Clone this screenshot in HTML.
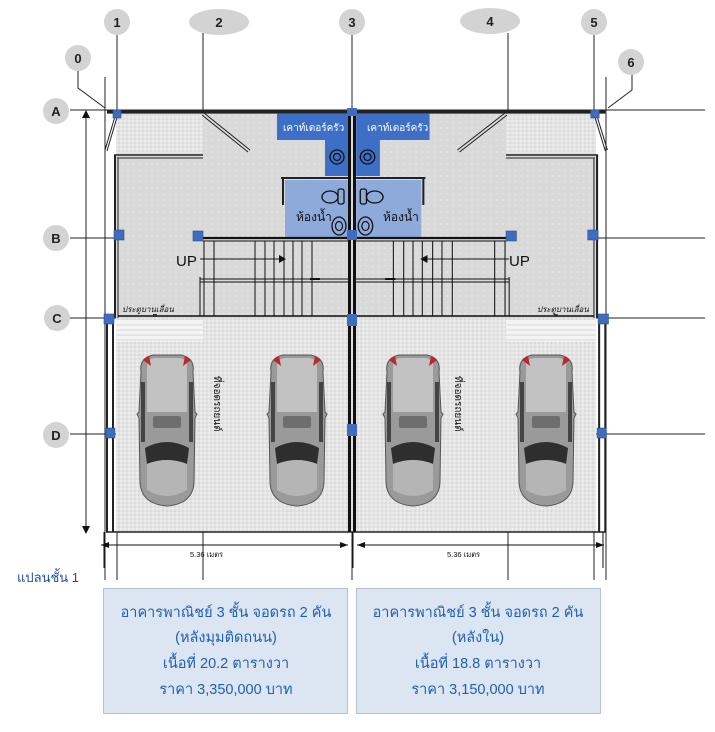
<!DOCTYPE html>
<html><head><meta charset="utf-8"><style>
html,body{margin:0;padding:0;background:#fff;}
svg{display:block;font-family:"Liberation Sans","Noto Sans CJK SC",sans-serif;}
</style></head><body>
<svg width="715" height="732" viewBox="0 0 715 732" xmlns="http://www.w3.org/2000/svg">
<defs>
<pattern id="dots" width="6" height="6" patternUnits="userSpaceOnUse"><rect width="6" height="6" fill="#d9d9d9"/><circle cx="2" cy="2" r="0.6" fill="#f2f2f2"/></pattern>
<pattern id="dots2" width="4" height="4" patternUnits="userSpaceOnUse"><rect width="4" height="4" fill="#e4e4e4"/><circle cx="1" cy="1" r="0.7" fill="#f8f8f8"/><circle cx="3" cy="3" r="0.7" fill="#cfcfcf"/></pattern>
<g id="half">
  <rect x="116" y="113" width="88" height="40" fill="url(#dots2)"/>
  <rect x="116" y="153" width="236" height="165" fill="url(#dots)"/>
  <rect x="203" y="113" width="149" height="40" fill="url(#dots)"/>
  <rect x="116" y="318" width="236" height="214" fill="url(#dots2)"/>
  <rect x="116" y="320" width="87" height="22" fill="#f4f4f4"/>
  <g stroke="#bbb" stroke-width="0.6"><line x1="116" y1="325" x2="203" y2="325"/><line x1="116" y1="330" x2="203" y2="330"/><line x1="116" y1="335" x2="203" y2="335"/><line x1="116" y1="340" x2="203" y2="340"/></g>
  <path d="M277 113 H348 V176 H325 V140 H277 Z" fill="#3c6fc5"/>
  <circle cx="337" cy="157" r="7" fill="none" stroke="#111" stroke-width="1.3"/><circle cx="337" cy="157" r="3.5" fill="none" stroke="#111" stroke-width="1.2"/>
  <rect x="285" y="180" width="63" height="57" fill="#8eaadb"/>
  <line x1="281" y1="178" x2="348" y2="178" stroke="#222" stroke-width="2"/>
  <line x1="283" y1="179" x2="283" y2="205" stroke="#222" stroke-width="2"/>
  <ellipse cx="330" cy="197" rx="8" ry="6" fill="none" stroke="#111" stroke-width="1.3"/>
  <rect x="338" y="189" width="6" height="15" rx="2" fill="none" stroke="#111" stroke-width="1.3"/>
  <ellipse cx="339" cy="226" rx="7" ry="9" fill="none" stroke="#111" stroke-width="1.3"/><ellipse cx="339" cy="226" rx="3.5" ry="4.5" fill="none" stroke="#111" stroke-width="1.2"/>
  <rect x="107" y="110" width="247" height="3" fill="#222"/>
  <line x1="107" y1="113.5" x2="352" y2="113.5" stroke="#444" stroke-width="0.8"/>
  <rect x="114" y="155" width="2" height="163" fill="#222"/>
  <line x1="114" y1="155" x2="203" y2="155" stroke="#222" stroke-width="1.5"/>
  <line x1="117" y1="158" x2="203" y2="158" stroke="#222" stroke-width="1"/>
  <line x1="118" y1="158" x2="118" y2="318" stroke="#222" stroke-width="1"/>
  <rect x="106" y="318" width="2" height="214" fill="#222"/><rect x="112" y="318" width="2" height="214" fill="#222"/>
  <line x1="106" y1="532" x2="352" y2="532" stroke="#222" stroke-width="1.5"/>
  <line x1="204" y1="113" x2="250" y2="150" stroke="#222" stroke-width="1"/><line x1="202" y1="115" x2="248" y2="152" stroke="#222" stroke-width="1"/>
  <line x1="116" y1="113" x2="105" y2="150" stroke="#222" stroke-width="1"/><line x1="118" y1="114" x2="107" y2="151" stroke="#222" stroke-width="1"/>
  <line x1="203" y1="238" x2="348" y2="238" stroke="#111" stroke-width="2.2"/>
  <line x1="203" y1="241" x2="348" y2="241" stroke="#111" stroke-width="1"/>
  <line x1="118" y1="316" x2="348" y2="316" stroke="#111" stroke-width="1.5"/>
  <line x1="200" y1="279" x2="348" y2="279" stroke="#111" stroke-width="1"/><line x1="200" y1="282" x2="348" y2="282" stroke="#111" stroke-width="1"/>
  <rect x="310" y="278" width="10" height="2" fill="#111"/>
  <g stroke="#111" stroke-width="1"><line x1="200" y1="277" x2="200" y2="316"/><line x1="204" y1="241" x2="204" y2="316"/><line x1="214" y1="241" x2="214" y2="316"/><line x1="255" y1="241" x2="255" y2="316"/><line x1="265" y1="241" x2="265" y2="316"/><line x1="274" y1="241" x2="274" y2="316"/><line x1="284" y1="241" x2="284" y2="316"/><line x1="293" y1="241" x2="293" y2="316"/><line x1="302" y1="241" x2="302" y2="316"/><line x1="312" y1="241" x2="312" y2="316"/></g>
  <line x1="200" y1="259" x2="280" y2="259" stroke="#111" stroke-width="1"/>
  <path d="M279 255 L286 259 L279 263 Z" fill="#111"/>
  <rect x="153" y="314" width="4" height="3" fill="#333"/>
  <g fill="#3f6cbf" stroke="#2b4f90" stroke-width="0.6">
    <rect x="113" y="110" width="8" height="8"/><rect x="114" y="230" width="10" height="10"/><rect x="193" y="231" width="10" height="10"/>
    <rect x="104" y="314" width="10" height="10"/><rect x="106" y="428" width="9" height="10"/>
  </g>
</g>
<g id="car">
  <path d="M6 20 Q4 6 18 3 H46 Q60 6 58 20 L60 60 L62 62 L60 66 L59 130 Q58 152 32 154 Q6 152 5 130 L4 66 L2 62 L4 60 Z" fill="#9a9a9a" stroke="#555" stroke-width="1"/>
  <path d="M12 14 Q12 7 20 6 H44 Q52 7 52 14 L52 60 H12 Z" fill="#c2c2c2"/>
  <rect x="18" y="64" width="28" height="12" rx="2" fill="#6e6e6e"/>
  <path d="M10 96 Q32 84 54 96 L52 112 Q32 104 12 112 Z" fill="#2e2e2e"/>
  <path d="M12 112 Q32 104 52 112 L52 138 Q32 150 12 138 Z" fill="#b5b5b5"/>
  <path d="M8 8 L14 4 L16 14 Z M56 8 L50 4 L48 14 Z" fill="#c0262c"/>
  <path d="M6 30 L10 30 L10 90 L6 90 Z M54 30 L58 30 L58 90 L54 90 Z" fill="#444"/>
</g>
</defs>

<g stroke="#222" stroke-width="1">
  <line x1="117" y1="32" x2="117" y2="580"/><line x1="203" y1="33" x2="203" y2="580"/><line x1="352" y1="33" x2="352" y2="580"/>
  <line x1="508" y1="33" x2="508" y2="580"/><line x1="594" y1="33" x2="594" y2="580"/>
  <line x1="105" y1="77" x2="105" y2="580"/><line x1="606" y1="77" x2="606" y2="580"/>
  <line x1="70" y1="110" x2="705" y2="110"/><line x1="70" y1="238" x2="705" y2="238"/><line x1="70" y1="318" x2="705" y2="318"/><line x1="70" y1="434" x2="705" y2="434"/>
  <line x1="86" y1="115" x2="86" y2="532"/>
  <polyline points="78,70 78,88 105,108" fill="none"/><polyline points="632,73 632,90 608,108" fill="none"/>
</g>
<path d="M82 118 L86 110 L90 118 Z" fill="#111"/><path d="M82 526 L86 534 L90 526 Z" fill="#111"/>

<use href="#half"/>
<use href="#half" transform="translate(715.97,0) scale(-1.034,1)"/>
<rect x="348" y="110" width="3" height="422" fill="#111"/><rect x="353" y="110" width="3" height="422" fill="#111"/>
<g fill="#3f6cbf"><rect x="347" y="108" width="10" height="8"/><rect x="347" y="230" width="10" height="10"/><rect x="347" y="314" width="10" height="12"/><rect x="347" y="424" width="10" height="12"/></g>

<use href="#car" x="135" y="352"/><use href="#car" x="265" y="352"/><use href="#car" x="381" y="352"/><use href="#car" x="514" y="352"/>

<g font-size="10" fill="#fff">
  <text x="283" y="131">เคาท์เตอร์ครัว</text><text x="367" y="131">เคาท์เตอร์ครัว</text>
</g>
<g font-size="12" fill="#111"><text x="296" y="221">ห้องน้ำ</text><text x="383" y="221">ห้องน้ำ</text></g>
<g font-size="15" fill="#111"><text x="176" y="266">UP</text><text x="509" y="266">UP</text></g>
<g font-size="8" font-style="italic" fill="#111"><text x="122" y="312">ประตูบานเลื่อน</text><text x="537" y="312">ประตูบานเลื่อน</text></g>
<g font-size="10" fill="#111"><text transform="translate(214,376) rotate(90)">ที่จอดรถยนต์</text><text transform="translate(455,376) rotate(90)">ที่จอดรถยนต์</text></g>

<g fill="#d3d3d3"><circle cx="117" cy="22" r="13"/><ellipse cx="219" cy="22" rx="30" ry="13"/><circle cx="352" cy="22" r="13"/><ellipse cx="490" cy="21" rx="30" ry="13"/><circle cx="594" cy="22" r="13"/>
<circle cx="78" cy="58" r="13"/><circle cx="631" cy="62" r="13"/><circle cx="56" cy="111" r="13"/><circle cx="56" cy="238" r="13"/><circle cx="57" cy="318" r="13"/><circle cx="56" cy="435" r="13"/></g>
<g font-size="13" font-weight="bold" fill="#222" text-anchor="middle"><text x="117" y="27">1</text><text x="219" y="27">2</text><text x="352" y="27">3</text><text x="490" y="26">4</text><text x="594" y="27">5</text><text x="78" y="63">0</text><text x="631" y="67">6</text>
<text x="56" y="116">A</text><text x="56" y="243">B</text><text x="57" y="323">C</text><text x="56" y="440">D</text></g>

<g stroke="#111" stroke-width="1"><line x1="101" y1="545" x2="348" y2="545"/><line x1="357" y1="545" x2="604" y2="545"/>
<line x1="104" y1="532" x2="104" y2="568"/><line x1="353" y1="532" x2="353" y2="568"/><line x1="603" y1="532" x2="603" y2="568"/></g>
<g fill="#111"><path d="M101 545 L109 542 L109 548Z"/><path d="M348 545 L340 542 L340 548Z"/><path d="M357 545 L365 542 L365 548Z"/><path d="M604 545 L596 542 L596 548Z"/></g>
<g font-size="7.5" fill="#111"><text x="190" y="557">5.36 เมตร</text><text x="447" y="557">5.36 เมตร</text></g>
<text x="17" y="582" font-size="13" fill="#1f4e9a">แปลนชั้น 1</text>

<rect x="103.5" y="588.5" width="244" height="125" fill="#dce6f3" stroke="#b8c2cc"/>
<rect x="356.5" y="588.5" width="244" height="125" fill="#dce6f3" stroke="#b8c2cc"/>
<g font-size="14.5" fill="#1f5fb0" text-anchor="middle">
<text x="226" y="617">อาคารพาณิชย์  3 ชั้น จอดรถ 2 คัน</text><text x="226" y="642">(หลังมุมติดถนน)</text><text x="226" y="668">เนื้อที่ 20.2 ตารางวา</text><text x="226" y="694">ราคา 3,350,000 บาท</text>
<text x="478" y="617">อาคารพาณิชย์  3 ชั้น จอดรถ 2 คัน</text><text x="478" y="642">(หลังใน)</text><text x="478" y="668">เนื้อที่ 18.8 ตารางวา</text><text x="478" y="694">ราคา 3,150,000 บาท</text>
</g>
</svg>
</body></html>
